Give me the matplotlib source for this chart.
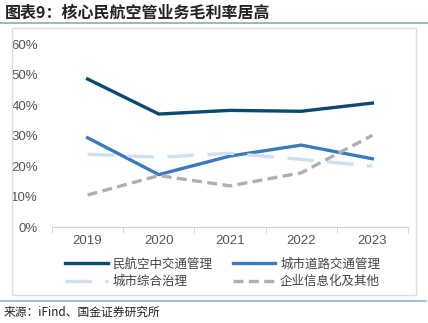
import matplotlib.pyplot as plt
from matplotlib.patches import Rectangle
from matplotlib.lines import Line2D

plt.rcParams['font.family'] = ['Noto Sans CJK SC', 'DejaVu Sans']

years = ['2019', '2020', '2021', '2022', '2023']
civil_atc = [48.6, 37.1, 38.3, 38.0, 40.7]
urban_road = [29.3, 17.2, 23.3, 26.9, 22.4]
urban_gov = [23.9, 22.9, 24.2, 22.2, 20.0]
enterprise = [10.5, 16.9, 13.5, 17.8, 30.1]

fig = plt.figure(figsize=(4.28, 3.23), dpi=100)

# 标题与分隔线
fig.text(0.012, 0.962, '图表9：核心民航空管业务毛利率居高', fontsize=11.5,
         fontweight='bold', style='italic', color='#222222', va='center')
fig.add_artist(Line2D([0, 1], [0.928, 0.928], color='#8fa8b4', lw=1.2))
fig.add_artist(Rectangle((12 / 428, 1 - 295 / 323), 404 / 428, 267 / 323,
                         fill=False, ec='#dddddd', lw=1))
fig.add_artist(Line2D([0, 0.995], [1 - 301 / 323] * 2, color='#8bb6c9', lw=1.2))
fig.text(0.008, 1 - 312 / 323, '来源：iFind、国金证券研究所', fontsize=8.5,
         color='#222222', va='center')

ax = fig.add_axes([52 / 428, 1 - 227 / 323, 356 / 428, 182.7 / 323])
x = range(len(years))
l1, = ax.plot(x, civil_atc, color='#0b4a6f', lw=2.4, label='民航空中交通管理')
l2, = ax.plot(x, urban_road, color='#3a7bbf', lw=2.4, label='城市道路交通管理')
l3, = ax.plot(x, urban_gov, color='#cfe0f1', lw=2.4, dashes=(8, 4), label='城市综合治理')
l4, = ax.plot(x, enterprise, color='#b0b0b0', lw=2.4, dashes=(3, 1.6), label='企业信息化及其他')

ax.set_xlim(-0.5, 4.5)
ax.set_ylim(0, 60)
ax.set_yticks(range(0, 61, 10))
ax.set_yticklabels([f'{v}%' for v in range(0, 61, 10)], family='Liberation Sans')
ax.set_xticks(x)
ax.set_xticklabels(years, family='Liberation Sans')
ax.set_xticks([-0.5, 0.5, 1.5, 2.5, 3.5, 4.5], minor=True)
ax.tick_params(axis='x', which='major', length=0, pad=6, labelsize=9.5, colors='#555555')
ax.tick_params(axis='x', which='minor', length=4, color='#d0d0d0')
ax.tick_params(axis='y', length=0, pad=10, labelsize=9.5, colors='#555555')
for s in ['top', 'right', 'left']:
    ax.spines[s].set_visible(False)
ax.spines['bottom'].set_color('#d0d0d0')

# 图例按行排列
fig.legend([l1, l3, l2, l4], [l.get_label() for l in (l1, l3, l2, l4)],
           loc='center', bbox_to_anchor=(0.52, 1 - 273 / 323), ncol=2, frameon=False,
           fontsize=9, handlelength=3.4, columnspacing=1.6, labelspacing=0.35,
           handletextpad=0.4, labelcolor='#444444')

fig.savefig('out.png', dpi=100)
